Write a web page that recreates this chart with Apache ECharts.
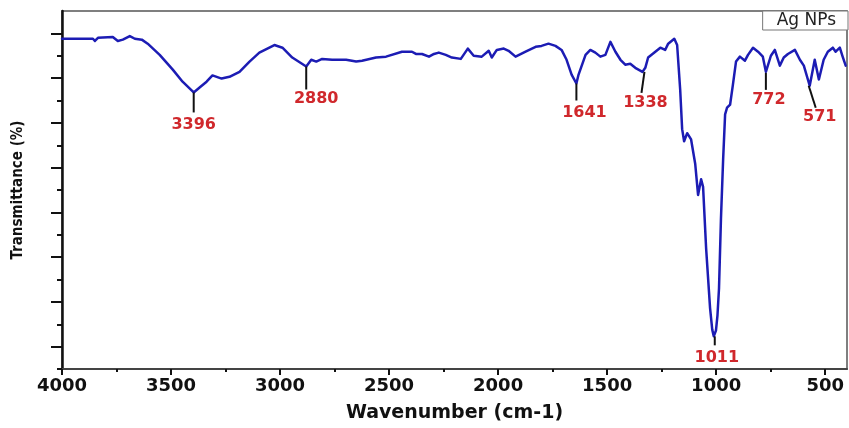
<!DOCTYPE html>
<html>
<head>
<meta charset="utf-8">
<script src="https://cdn.jsdelivr.net/npm/echarts@6/dist/echarts.min.js"></script>
<style>html,body{margin:0;padding:0;background:#fff}#c{width:849px;height:428px}</style>
</head>
<body>
<div id="c"></div>
<script>
// ---- data ----
const wavenumber = [4000,3918,3858,3849,3835,3767,3744,3721,3689,3666,3634,3607,3552,3492,3447,3396,3369,3337,3310,3268,3232,3186,3140,3095,3026,2989,2944,2880,2857,2834,2807,2761,2697,2651,2624,2560,2514,2441,2395,2377,2349,2317,2294,2272,2240,2212,2171,2139,2112,2075,2043,2029,2006,1974,1952,1920,1874,1828,1801,1792,1769,1737,1709,1686,1663,1641,1631,1599,1577,1554,1531,1508,1485,1462,1439,1417,1394,1371,1338,1325,1312,1279,1256,1234,1220,1192,1179,1165,1156,1147,1133,1115,1096,1083,1069,1060,1046,1028,1018,1011,1001,994,987,978,968,959,950,936,923,909,891,868,854,831,808,786,772,749,731,708,690,671,639,616,598,571,548,529,507,488,465,452,433,420,406];
const transmittance = [73.8,73.8,73.8,73.3,74.0,74.2,73.3,73.6,74.4,73.8,73.6,72.7,70.2,66.9,64.2,61.8,62.9,64.2,65.6,64.9,65.3,66.4,68.7,70.7,72.4,71.8,69.6,67.6,69.1,68.7,69.3,69.1,69.1,68.7,68.9,69.6,69.8,70.9,70.9,70.4,70.4,69.8,70.4,70.7,70.2,69.6,69.3,71.6,70.0,69.8,71.1,69.6,71.3,71.6,71.1,69.8,70.9,72.0,72.2,71.8,72.7,72.2,71.3,69.1,65.8,63.8,65.8,70.2,71.3,70.7,69.8,70.2,73.1,70.9,69.1,68.0,68.2,67.3,66.4,67.3,69.6,70.9,71.8,71.3,72.7,73.8,72.4,62.4,53.6,50.9,52.7,51.3,45.8,38.9,42.4,40.7,26.9,13.6,8.8,7.3,8.6,12.0,18.0,33.6,46.9,56.9,58.4,59.1,63.6,68.7,69.8,68.9,70.2,71.8,70.9,69.8,66.4,70.0,71.3,67.8,69.6,70.4,71.3,69.1,67.8,63.3,69.1,64.7,69.1,70.9,71.8,70.9,71.8,69.8,67.8];
const peakWn = [3396, 2880, 1641, 1338, 1011, 772, 571];
const peakT = [61.8, 67.6, 63.8, 66.4, 7.3, 66.4, 63.3];
const peakLabels = ['3396', '2880', '1641', '1338', '1011', '772', '571'];
const xTickLabels = [4000, 3500, 3000, 2500, 2000, 1500, 1000, 500];
const xMinorTicks = [3750, 3250, 2750, 2250, 1750, 1250, 750];
const yMajorTicks = [5, 15, 25, 35, 45, 55, 65, 75];
const yMinorTicks = [0, 10, 20, 30, 40, 50, 60, 70];
const seriesName = 'Ag NPs';

// ---- styles for annotations (pixel offsets from the peak point) ----
const peakStyle = [
  {lx0:0, ly0:0, lx1:0, ly1:20, tx:0, ty:32},
  {lx0:0, ly0:0, lx1:0, ly1:23, tx:10, ty:32},
  {lx0:0, ly0:0, lx1:0, ly1:17, tx:8, ty:29},
  {lx0:2, ly0:0, lx1:-1, ly1:21, tx:3, ty:31},
  {lx0:1, ly0:0, lx1:1, ly1:9, tx:3, ty:22},
  {lx0:0, ly0:1, lx1:0, ly1:18, tx:3, ty:28},
  {lx0:-1, ly0:0, lx1:6, ly1:22, tx:10, ty:31}
];

const chart = echarts.init(document.getElementById('c'), null, {renderer: 'canvas'});
const lineData = wavenumber.map((w, i) => [w, transmittance[i]]);
const peakData = peakWn.map((w, i) => [w, peakT[i]]);

chart.setOption({
  animation: false,
  backgroundColor: '#fff',
  grid: {left: 62, right: 2, top: 11, bottom: 57, show: true, borderColor: '#555', borderWidth: 1.5},
  legend: {
    data: [seriesName], right: 1, top: 11, icon: 'none', itemWidth: 0, itemHeight: 0,
    selectedMode: false, borderColor: '#777', borderWidth: 1, backgroundColor: '#fff',
    padding: [1, 12, 1, 9],
    textStyle: {fontFamily: 'DejaVu Sans', fontSize: 17, color: '#222'}
  },
  xAxis: [{
    type: 'value', min: 400, max: 4000, inverse: true,
    name: 'Wavenumber (cm-1)', nameLocation: 'middle', nameGap: 35,
    nameTextStyle: {fontFamily: 'DejaVu Sans', fontWeight: 'bold', fontSize: 19, color: '#111'},
    axisLine: {show: true, onZero: false, lineStyle: {color: '#444', width: 2}},
    axisTick: {show: true, customValues: xTickLabels, length: 6, lineStyle: {color: '#111', width: 2}},
    axisLabel: {customValues: xTickLabels, margin: 8, fontFamily: 'DejaVu Sans', fontWeight: 'bold', fontSize: 18, color: '#111',
      formatter: function (v) { return String(v); }},
    splitLine: {show: false}
  }, {
    type: 'value', min: 400, max: 4000, inverse: true, position: 'bottom',
    axisLine: {show: false}, axisLabel: {show: false}, splitLine: {show: false},
    axisTick: {show: true, customValues: xMinorTicks, length: 3, lineStyle: {color: '#111', width: 2}}
  }],
  yAxis: [{
    type: 'value', min: 0, max: 80,
    name: 'Transmittance (%)', nameLocation: 'middle', nameGap: 36,
    nameTextStyle: {fontFamily: '"DejaVu Sans Condensed", "Liberation Sans", sans-serif', fontWeight: 'bold', fontSize: 15, color: '#111'},
    axisLine: {show: true, onZero: false, lineStyle: {color: '#111', width: 2.5}},
    axisTick: {show: true, customValues: yMajorTicks, length: 11, lineStyle: {color: '#111', width: 2}},
    axisLabel: {show: false},
    splitLine: {show: false}
  }, {
    type: 'value', min: 0, max: 80, position: 'left',
    axisLine: {show: false}, axisLabel: {show: false}, splitLine: {show: false},
    axisTick: {show: true, customValues: yMinorTicks, length: 5, lineStyle: {color: '#111', width: 2}}
  }],
  series: [{
    name: seriesName, type: 'line', data: lineData, xAxisIndex: 0, yAxisIndex: 0,
    showSymbol: false, symbol: 'none', smooth: false,
    lineStyle: {color: '#1c1cb4', width: 2.5, cap: 'round', join: 'round'},
    itemStyle: {color: '#1c1cb4'}, z: 3
  }, {
    name: 'peaks', type: 'custom', data: peakData, xAxisIndex: 0, yAxisIndex: 0,
    clip: false, silent: true, z: 5,
    renderItem: function (params, api) {
      const i = params.dataIndex;
      const p = api.coord([api.value(0), api.value(1)]);
      const s = peakStyle[i];
      return {
        type: 'group',
        children: [{
          type: 'line',
          shape: {x1: p[0] + s.lx0, y1: p[1] + s.ly0, x2: p[0] + s.lx1, y2: p[1] + s.ly1},
          style: {stroke: '#111', lineWidth: 2}
        }, {
          type: 'text',
          x: p[0] + s.tx, y: p[1] + s.ty,
          style: {text: peakLabels[i], fill: '#d0282c', font: 'bold 16px "DejaVu Sans"', align: 'center', verticalAlign: 'middle'}
        }]
      };
    }
  }]
});
</script>
</body>
</html>
